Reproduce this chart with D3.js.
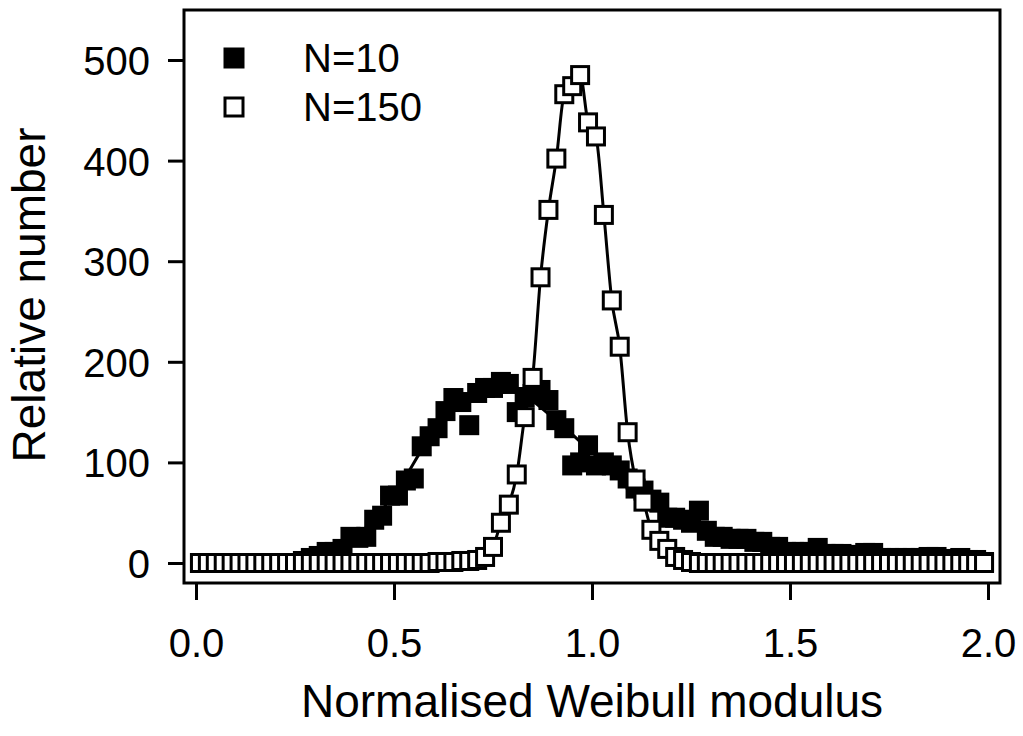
<!DOCTYPE html>
<html>
<head>
<meta charset="utf-8">
<script src="https://cdn.jsdelivr.net/npm/d3@7"></script>
<style>
  html, body { margin: 0; padding: 0; background: #fff; }
  svg { display: block; }
  text { font-family: "Liberation Sans", Arial, Helvetica, sans-serif; fill: #000; }
</style>
</head>
<body>
<svg id="chart" width="1023" height="736"></svg>
<script>
// ---- data ----
const binCenters = [0.01,0.03,0.05,0.07,0.09,0.11,0.13,0.15,0.17,0.19,0.21,0.23,0.25,0.27,0.29,0.31,0.33,0.35,0.37,0.39,
  0.41,0.43,0.45,0.47,0.49,0.51,0.53,0.55,0.57,0.59,0.61,0.63,0.65,0.67,0.69,0.71,0.73,0.75,0.77,0.79,
  0.81,0.83,0.85,0.87,0.89,0.91,0.93,0.95,0.97,0.99,1.01,1.03,1.05,1.07,1.09,1.11,1.13,1.15,1.17,1.19,
  1.21,1.23,1.25,1.27,1.29,1.31,1.33,1.35,1.37,1.39,1.41,1.43,1.45,1.47,1.49,1.51,1.53,1.55,1.57,1.59,
  1.61,1.63,1.65,1.67,1.69,1.71,1.73,1.75,1.77,1.79,1.81,1.83,1.85,1.87,1.89,1.91,1.93,1.95,1.97,1.99];

const n10Values = [0,0,0,0,0,0,0,0,0,0,0,0,0,2,5,7,11,11,14,26,
  25,26,43,47,67,67,82,84,116,126,134,151,164,160,137,169,174,174,180,178,
  150,165,168,172,162,142,134,97,100,117,97,100,97,92,84,74,72,63,60,45,
  45,43,40,52,32,26,26,24,24,24,21,21,16,16,11,11,11,11,15,9,
  9,9,8,8,10,10,5,5,5,5,5,5,6,6,4,4,5,3,3,1];

const n150Values = [0,0,0,0,0,0,0,0,0,0,0,0,0,0,0,0,0,0,0,0,
  0,0,0,0,0,0,0,0,0,0,1,1,1,2,2,3,6,16,40,58,
  88,145,184,284,351,402,466,474,485,438,424,346,261,215,130,83,61,33,22,14,
  6,3,1,0,0,0,0,0,0,0,0,0,0,0,0,0,0,0,0,0,
  0,0,0,0,0,0,0,0,0,0,0,0,0,0,0,0,0,0,0,0];

const n10FitX = [0.0,0.1,0.2,0.3,0.4,0.5,0.6,0.7,0.8,0.9,1.0,1.1,1.2,1.3,1.4,1.5,1.6,1.8,2.0];
const n10FitY = [0,0,1,6,25,68,130,166,170,145,110,78,52,33,21,13,8,4,2];

const xTicks = [0.0, 0.5, 1.0, 1.5, 2.0];
const yTicks = [0, 100, 200, 300, 400, 500];
const legendLabels = ["N=10", "N=150"];
const xTitle = "Normalised Weibull modulus";
const yTitle = "Relative number";

// ---- layout ----
const svg = d3.select("#chart");
const frame = {left: 184, top: 10, right: 1000, bottom: 583};
const x = d3.scaleLinear().domain([0, 2]).range([196, 988]);
const y = d3.scaleLinear().domain([0, 500]).range([563, 60]);
const markerSize = 17;   // inner size, stroke 3 -> 20px outer
const fontTick = 40, fontTitle = 46;

// frame
svg.append("rect")
  .attr("x", frame.left).attr("y", frame.top)
  .attr("width", frame.right - frame.left).attr("height", frame.bottom - frame.top)
  .attr("fill", "none").attr("stroke", "#000").attr("stroke-width", 3);

// x axis
const xAxis = d3.axisBottom(x).tickValues(xTicks).tickFormat(d3.format(".1f")).tickSize(17).tickSizeOuter(0);
const gx = svg.append("g").attr("transform", `translate(0,${frame.bottom})`).call(xAxis);
gx.select(".domain").remove();
gx.selectAll(".tick line").attr("stroke", "#000").attr("stroke-width", 3);
gx.selectAll(".tick text").attr("font-size", fontTick).attr("dy", null).attr("y", 74)
  .attr("font-family", "'Liberation Sans', Arial, sans-serif");

// y axis
const yAxis = d3.axisLeft(y).tickValues(yTicks).tickFormat(d3.format("d")).tickSize(16).tickSizeOuter(0);
const gy = svg.append("g").attr("transform", `translate(${frame.left},0)`).call(yAxis);
gy.select(".domain").remove();
gy.selectAll(".tick line").attr("stroke", "#000").attr("stroke-width", 3);
gy.selectAll(".tick text").attr("font-size", fontTick).attr("x", -34).attr("dy", "0.36em")
  .attr("font-family", "'Liberation Sans', Arial, sans-serif");

// titles
svg.append("text").attr("x", 592).attr("y", 717).attr("text-anchor", "middle")
  .attr("font-size", fontTitle).text(xTitle);
svg.append("text").attr("transform", "translate(45,295) rotate(-90)").attr("text-anchor", "middle")
  .attr("font-size", fontTitle).text(yTitle);

const n10 = binCenters.map((v, i) => ({x: v, y: n10Values[i]}));
const n150 = binCenters.map((v, i) => ({x: v, y: n150Values[i]}));
const fit10 = n10FitX.map((v, i) => ({x: v, y: n10FitY[i]}));

// N=10 fit line
svg.append("path").datum(fit10)
  .attr("d", d3.line().x(d => x(d.x)).y(d => y(d.y)).curve(d3.curveMonotoneX))
  .attr("fill", "none").attr("stroke", "#000").attr("stroke-width", 3);

// N=10 squares
svg.append("g").selectAll("rect").data(n10).join("rect")
  .attr("x", d => x(d.x) - markerSize / 2).attr("y", d => y(d.y) - markerSize / 2)
  .attr("width", markerSize).attr("height", markerSize)
  .attr("fill", "#000").attr("stroke", "#000").attr("stroke-width", 3);

// N=150 line
svg.append("path").datum(n150)
  .attr("d", d3.line().x(d => x(d.x)).y(d => y(d.y)).curve(d3.curveMonotoneX))
  .attr("fill", "none").attr("stroke", "#000").attr("stroke-width", 3);

// N=150 squares
svg.append("g").selectAll("rect").data(n150).join("rect")
  .attr("x", d => x(d.x) - markerSize / 2).attr("y", d => y(d.y) - markerSize / 2)
  .attr("width", markerSize).attr("height", markerSize)
  .attr("fill", "#fff").attr("stroke", "#000").attr("stroke-width", 3);

// legend
const legend = svg.append("g");
const legendY = [58, 107];
legendLabels.forEach((lab, i) => {
  legend.append("rect")
    .attr("x", 234 - 9).attr("y", legendY[i] - 9)
    .attr("width", 18).attr("height", 18)
    .attr("fill", i === 0 ? "#000" : "#fff").attr("stroke", "#000").attr("stroke-width", 3);
  legend.append("text").attr("x", 303).attr("y", legendY[i] + 14)
    .attr("font-size", fontTick).text(lab);
});
</script>
</body>
</html>
